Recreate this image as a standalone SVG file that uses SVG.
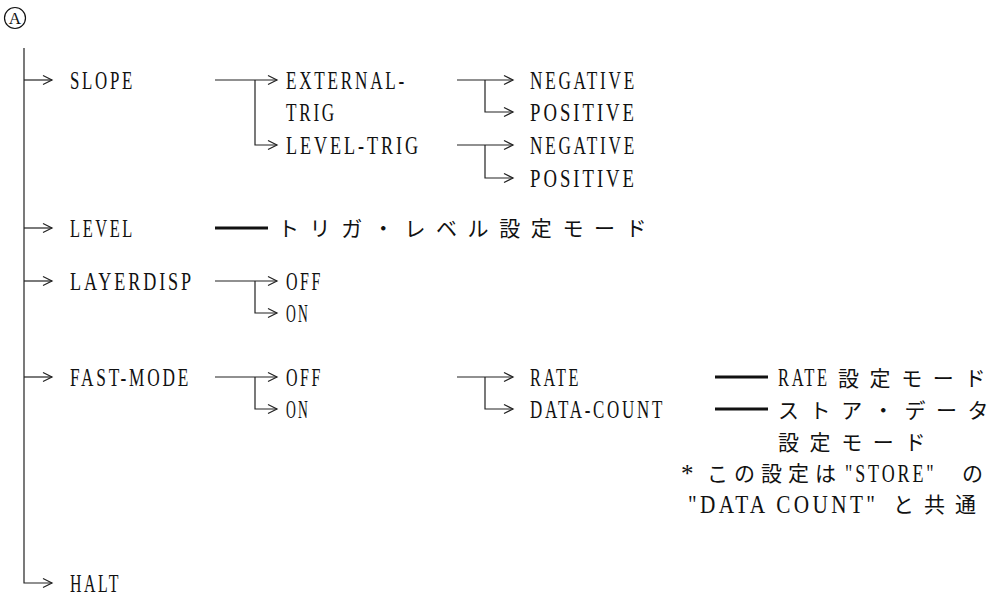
<svg xmlns="http://www.w3.org/2000/svg" width="999" height="611" viewBox="0 0 999 611">
<defs>
<marker id="ah" markerUnits="userSpaceOnUse" markerWidth="12" markerHeight="12" viewBox="0 0 12 12" refX="10" refY="6" orient="auto">
<path d="M1,1.5 L10,6 L1,10.5" fill="none" stroke="#222" stroke-width="1.2"/>
</marker>
</defs>
<style>
.t{font-family:"Liberation Serif","DejaVu Serif",serif;font-size:25px;letter-spacing:4px;fill:#111}
.j{font-family:"Noto Sans CJK JP","Noto Sans CJK SC",sans-serif;font-size:21px;letter-spacing:10.6px;fill:#111}
.c{fill:none;stroke:#222;stroke-width:1.2}
.b{fill:none;stroke:#111;stroke-width:3}
</style>
<rect width="999" height="611" fill="#fff"/>
<g id="connectors">
<path class="c" d="M24,48 V583 H52" marker-end="url(#ah)"/>
<path class="c" d="M24,80 H52" marker-end="url(#ah)"/>
<path class="c" d="M24,228 H52" marker-end="url(#ah)"/>
<path class="c" d="M24,281 H52" marker-end="url(#ah)"/>
<path class="c" d="M24,377 H52" marker-end="url(#ah)"/>
<path class="c" d="M215,80 H277" marker-end="url(#ah)"/>
<path class="c" d="M255,80 V145 H277" marker-end="url(#ah)"/>
<path class="c" d="M457,80 H513" marker-end="url(#ah)"/>
<path class="c" d="M485,80 V112 H513" marker-end="url(#ah)"/>
<path class="c" d="M457,145 H513" marker-end="url(#ah)"/>
<path class="c" d="M485,145 V178 H513" marker-end="url(#ah)"/>
<path class="b" d="M215,228 H268"/>
<path class="c" d="M215,281 H277" marker-end="url(#ah)"/>
<path class="c" d="M255,281 V313 H277" marker-end="url(#ah)"/>
<path class="c" d="M215,377 H277" marker-end="url(#ah)"/>
<path class="c" d="M255,377 V409 H277" marker-end="url(#ah)"/>
<path class="c" d="M457,377 H513" marker-end="url(#ah)"/>
<path class="c" d="M485,377 V409 H513" marker-end="url(#ah)"/>
<path class="b" d="M715,377 H768"/>
<path class="b" d="M715,409 H768"/>
</g>
<g id="root">
<circle cx="15" cy="18" r="10.5" fill="none" stroke="#111" stroke-width="1.2"/>
<text x="15" y="24" text-anchor="middle" style="font-family:'Liberation Serif',serif;font-size:17px;fill:#111">A</text>
</g>
<g id="slope"><text class="t" x="70" y="89" textLength="65" lengthAdjust="spacingAndGlyphs">SLOPE</text></g>
<g id="external-trig"><text class="t" x="286" y="89" textLength="121" lengthAdjust="spacingAndGlyphs">EXTERNAL-</text><text class="t" x="286" y="121" textLength="51" lengthAdjust="spacingAndGlyphs">TRIG</text></g>
<g id="ext-negative"><text class="t" x="530" y="89" textLength="107" lengthAdjust="spacingAndGlyphs">NEGATIVE</text></g>
<g id="ext-positive"><text class="t" x="530" y="121" textLength="107" lengthAdjust="spacingAndGlyphs">POSITIVE</text></g>
<g id="level-trig"><text class="t" x="286" y="154" textLength="135" lengthAdjust="spacingAndGlyphs">LEVEL-TRIG</text></g>
<g id="lvl-negative"><text class="t" x="530" y="154" textLength="107" lengthAdjust="spacingAndGlyphs">NEGATIVE</text></g>
<g id="lvl-positive"><text class="t" x="530" y="187" textLength="107" lengthAdjust="spacingAndGlyphs">POSITIVE</text></g>
<g id="level"><text class="t" x="70" y="237" textLength="65" lengthAdjust="spacingAndGlyphs">LEVEL</text></g>
<g id="level-mode"><text class="j" x="278" y="236">トリガ・レベル設定モード</text></g>
<g id="layerdisp"><text class="t" x="70" y="290" textLength="124" lengthAdjust="spacingAndGlyphs">LAYERDISP</text></g>
<g id="ld-off"><text class="t" x="286" y="290" textLength="37" lengthAdjust="spacingAndGlyphs">OFF</text></g>
<g id="ld-on"><text class="t" x="286" y="322" textLength="24" lengthAdjust="spacingAndGlyphs">ON</text></g>
<g id="fast-mode"><text class="t" x="70" y="386" textLength="121" lengthAdjust="spacingAndGlyphs">FAST-MODE</text></g>
<g id="fm-off"><text class="t" x="286" y="386" textLength="37" lengthAdjust="spacingAndGlyphs">OFF</text></g>
<g id="fm-on"><text class="t" x="286" y="418" textLength="24" lengthAdjust="spacingAndGlyphs">ON</text></g>
<g id="rate"><text class="t" x="530" y="386" textLength="51" lengthAdjust="spacingAndGlyphs">RATE</text></g>
<g id="data-count"><text class="t" x="530" y="418" textLength="135" lengthAdjust="spacingAndGlyphs">DATA-COUNT</text></g>
<g id="rate-mode"><text class="t" transform="translate(778,386) scale(0.66,1)">RATE</text><text class="j" x="838" y="386">設定モード</text></g>
<g id="store-mode"><text class="j" x="778" y="418">ストア・データ</text><text class="j" x="778" y="450">設定モード</text></g>
<g id="note">
<text class="t" x="681" y="482">*</text>
<text class="j" x="707" y="481" style="letter-spacing:6px">この設定は</text>
<text class="t" transform="translate(845,482) scale(0.72,1)">"STORE"</text>
<text class="j" x="962" y="481">の</text>
<text class="t" transform="translate(688,513) scale(0.85,1)">"DATA COUNT"</text>
<text class="j" x="893" y="512" style="letter-spacing:10px">と共通</text>
</g>
<g id="halt"><text class="t" x="70" y="592" textLength="51" lengthAdjust="spacingAndGlyphs">HALT</text></g>
</svg>
